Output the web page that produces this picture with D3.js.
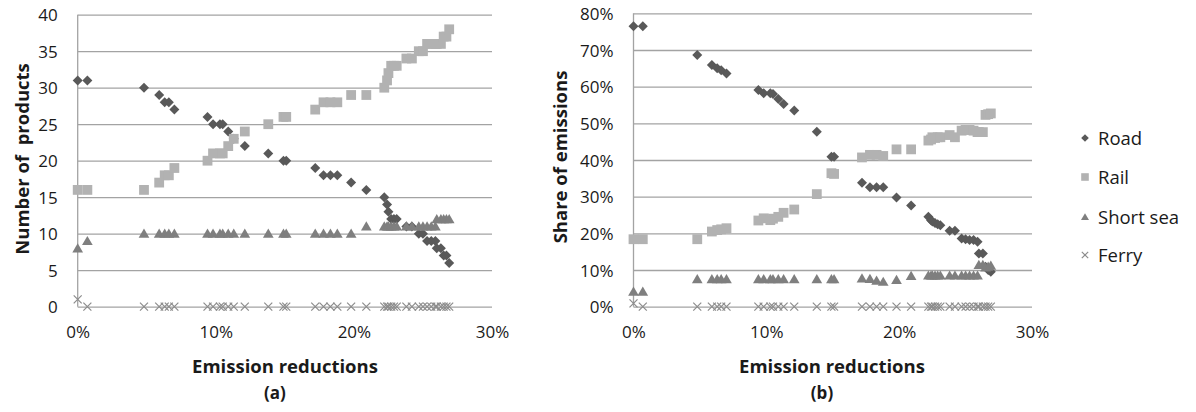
<!DOCTYPE html>
<html>
<head>
<meta charset="utf-8">
<script src="https://cdn.jsdelivr.net/npm/d3@7"></script>
<style>
  html, body { margin: 0; padding: 0; background: #fff; }
  svg { display: block; }
  text { font-family: "Open Sans", Lato, sans-serif; fill: #1a1a1a; }
</style>
</head>
<body>
<svg id="chart" width="1196" height="412"></svg>
<script>
// ---- Data ----
const reductions = [0.0, 0.7, 4.8, 5.9, 6.3, 6.6, 7.0, 9.4, 9.8, 10.3, 10.5, 10.9, 11.3, 12.1, 13.8, 14.9, 15.1,
  17.2, 17.8, 18.3, 18.8, 19.8, 20.9, 22.2, 22.4, 22.5, 22.7, 22.9, 23.1, 23.8, 24.2, 24.7, 25.0, 25.3, 25.6,
  25.9, 26.0, 26.3, 26.5, 26.7, 26.9];

const roadCount = [31, 31, 30, 29, 28, 28, 27, 26, 25, 25, 25, 24, 23, 22, 21, 20, 20,
  19, 18, 18, 18, 17, 16, 15, 14, 13, 12, 12, 12, 11, 11, 10, 10, 9, 9,
  9, 8, 8, 7, 7, 6];
const railCount = [16, 16, 16, 17, 18, 18, 19, 20, 21, 21, 21, 22, 23, 24, 25, 26, 26,
  27, 28, 28, 28, 29, 29, 30, 31, 32, 33, 33, 33, 34, 34, 35, 35, 36, 36,
  36, 36, 36, 37, 37, 38];
const seaCount = [8, 9, 10, 10, 10, 10, 10, 10, 10, 10, 10, 10, 10, 10, 10, 10, 10,
  10, 10, 10, 10, 10, 11, 11, 11, 11, 11, 11, 11, 11, 11, 11, 11, 11, 11,
  11, 12, 12, 12, 12, 12];
const ferryCount = [1, 0, 0, 0, 0, 0, 0, 0, 0, 0, 0, 0, 0, 0, 0, 0, 0,
  0, 0, 0, 0, 0, 0, 0, 0, 0, 0, 0, 0, 0, 0, 0, 0, 0, 0,
  0, 0, 0, 0, 0, 0];

const roadShare = [76.5, 76.5, 68.6, 65.9, 65.0, 64.5, 63.6, 59.1, 58.2, 58.2, 58.0, 56.6, 55.3, 53.5, 47.7, 40.9, 40.9,
  33.8, 32.6, 32.6, 32.6, 29.8, 27.6, 24.5, 23.6, 23.2, 22.8, 22.5, 22.2, 20.7, 20.7, 18.6, 18.4, 18.2, 18.2,
  17.7, 14.5, 14.5, 10.9, 10.0, 9.5];
const railShare = [18.4, 18.4, 18.4, 20.5, 20.9, 21.1, 21.4, 23.5, 24.1, 23.6, 24.0, 24.5, 25.6, 26.5, 30.7, 36.4, 36.2,
  40.7, 41.4, 41.4, 41.1, 42.9, 42.9, 45.3, 45.6, 46.2, 46.0, 46.2, 46.2, 46.8, 46.2, 48.0, 48.2, 48.2, 48.0,
  47.6, 47.6, 47.6, 52.3, 52.5, 52.7];
const seaShare = [4.1, 4.1, 7.5, 7.5, 7.5, 7.5, 7.5, 7.5, 7.5, 7.5, 7.5, 7.5, 7.5, 7.5, 7.5, 7.5, 7.5,
  7.7, 7.6, 7.1, 6.8, 7.3, 8.4, 8.5, 8.5, 8.5, 8.5, 8.5, 8.5, 8.5, 8.5, 8.5, 8.5, 8.5, 8.5,
  8.5, 11.4, 11.4, 10.7, 10.9, 11.2];
const ferryShare = [0.9, 0, 0, 0, 0, 0, 0, 0, 0, 0, 0, 0, 0, 0, 0, 0, 0,
  0, 0, 0, 0, 0, 0, 0, 0, 0, 0, 0, 0, 0, 0, 0, 0, 0, 0,
  0, 0, 0, 0, 0, 0];

const seriesNames = ["Road", "Rail", "Short sea", "Ferry"];
const xTicks = [0, 10, 20, 30];
const yTicksA = [0, 5, 10, 15, 20, 25, 30, 35, 40];
const yTicksB = [0, 10, 20, 30, 40, 50, 60, 70, 80];
const titleX = "Emission reductions";
const titleYA = "Number of  products";
const titleYB = "Share of emissions";
const panelLabels = ["(a)", "(b)"];

// ---- Styling ----
const colors = { "Road": "#595959", "Rail": "#b2b2b2", "Short sea": "#7f7f7f", "Ferry": "#8c8c8c" };
const gridColor = "#a3a3a3";

function markerPath(name, s) {
  if (name === "Road") return `M0,${-s}L${s},0L0,${s}L${-s},0Z`;
  if (name === "Rail") return `M${-s},${-s}H${s}V${s}H${-s}Z`;
  if (name === "Short sea") return `M0,${-s}L${s * 1.05},${s * 0.8}L${-s * 1.05},${s * 0.8}Z`;
  return `M${-s},${-s}L${s},${s}M${s},${-s}L${-s},${s}`;
}
function drawMarker(sel, name, s) {
  const p = sel.append("path").attr("d", markerPath(name, s));
  if (name === "Ferry") p.attr("fill", "none").attr("stroke", colors[name]).attr("stroke-width", 1.2);
  else p.attr("fill", colors[name]);
  return p;
}

const svg = d3.select("#chart");

function panel(cfg) {
  const x = d3.scaleLinear().domain([0, 30]).range([cfg.x0, cfg.x1]);
  const y = d3.scaleLinear().domain([0, cfg.yMax]).range([306.7, cfg.yTop]);
  const g = svg.append("g");

  // gridlines + y labels
  const yAxis = d3.axisLeft(y).tickValues(cfg.yTicks).tickSize(-(cfg.x1 - cfg.x0)).tickPadding(20)
    .tickFormat(cfg.yFmt);
  const ya = g.append("g").attr("transform", `translate(${cfg.x0},0)`).call(yAxis);
  ya.select(".domain").remove();
  ya.selectAll(".tick line").attr("stroke", gridColor).attr("stroke-width", 1.3);
  ya.selectAll(".tick text").style("font-size", "17px").attr("fill", "#1a1a1a").attr("dy", "0.36em");
  // vertical axis line
  g.append("line").attr("x1", cfg.x0).attr("x2", cfg.x0).attr("y1", y(cfg.yMax)).attr("y2", y(0))
    .attr("stroke", gridColor).attr("stroke-width", 1.3);

  // x labels
  const xAxis = d3.axisBottom(x).tickValues(xTicks).tickSize(0).tickPadding(19).tickFormat(d => d + "%");
  const xa = g.append("g").attr("transform", `translate(0,306.7)`).call(xAxis);
  xa.select(".domain").remove();
  xa.selectAll(".tick text").style("font-size", "17px").attr("fill", "#1a1a1a");

  // points
  const series = [
    ["Road", cfg.road], ["Rail", cfg.rail], ["Short sea", cfg.sea], ["Ferry", cfg.ferry]
  ];
  const sizes = { "Road": 5, "Rail": 4.9, "Short sea": 5.1, "Ferry": 4 };
  series.forEach(([name, vals]) => {
    const pts = g.append("g");
    reductions.forEach((r, i) => {
      const m = drawMarker(pts, name, sizes[name]);
      m.attr("transform", `translate(${x(r)},${y(vals[i])})`);
    });
  });

  // titles
  g.append("text").attr("x", cfg.titleXc).attr("y", 373).attr("text-anchor", "middle")
    .style("font-size", "18.5px").style("font-weight", "bold").text(titleX);
  g.append("text").attr("x", cfg.labelXc).attr("y", 399).attr("text-anchor", "middle")
    .style("font-size", "17px").style("font-weight", "bold").text(cfg.panelLabel);
  g.append("text").attr("transform", `translate(${cfg.yTitleX},${cfg.yTitleY}) rotate(-90)`)
    .attr("text-anchor", "middle").style("font-size", "18.5px").style("font-weight", "bold")
    .style("white-space", "pre").attr("xml:space", "preserve").text(cfg.yTitle);
}

panel({ x0: 77.7, x1: 492, yMax: 40, yTop: 14.7, yTicks: yTicksA, yFmt: d => d,
  road: roadCount, rail: railCount, sea: seaCount, ferry: ferryCount,
  titleXc: 285, labelXc: 275, panelLabel: panelLabels[0],
  yTitle: titleYA, yTitleX: 29, yTitleY: 159 });

panel({ x0: 633.5, x1: 1032, yMax: 80, yTop: 13.3, yTicks: yTicksB, yFmt: d => d + "%",
  road: roadShare, rail: railShare, sea: seaShare, ferry: ferryShare,
  titleXc: 832, labelXc: 822, panelLabel: panelLabels[1],
  yTitle: titleYB, yTitleX: 567, yTitleY: 157 });

// legend
const legend = svg.append("g");
const legY = [138, 177, 217, 255];
seriesNames.forEach((name, i) => {
  const lg = legend.append("g").attr("transform", `translate(1085,${legY[i]})`);
  drawMarker(lg, name, name === "Ferry" ? 3.2 : 3.8);
  lg.append("text").attr("x", 13).attr("y", 0).attr("dy", "0.36em")
    .style("font-size", "18.5px").text(name);
});
</script>
</body>
</html>
